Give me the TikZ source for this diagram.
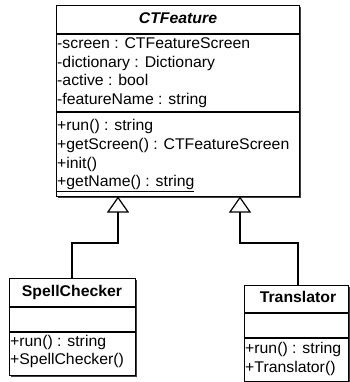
\documentclass[tikz,border=0pt]{standalone}
\usepackage{fontspec}
\setmainfont[FakeStretch=1.02]{Liberation Sans}
\usetikzlibrary{arrows.meta,shadows}
\begin{document}
\begin{tikzpicture}[x=1pt,y=-1pt,
  classbox/.style={draw, line width=1.2pt, fill=white, inner sep=0pt, anchor=north west,
    drop shadow={shadow xshift=1.3pt, shadow yshift=-1.3pt, fill=black!75, opacity=1}},
  member/.style={anchor=west, inner sep=0pt, font=\fontsize{15.5}{18}\selectfont,
    text height=11pt, text depth=3pt},
  cname/.style={inner sep=0pt, font=\fontsize{15.5}{18}\selectfont\bfseries,
    text height=11pt, text depth=3pt},
  sep/.style={line width=1.2pt},
  inherit/.style={line width=1.2pt, -{Triangle[open, width=22pt, length=16pt, line width=1.2pt]}}
]
\useasboundingbox (0,0) rectangle (349,382);

% CTFeature class
\node[classbox, minimum width=243pt, minimum height=191pt] (ct) at (56,5) {};
\draw[sep] (56,34) -- (299,34);
\draw[sep] (56,112) -- (299,112);
\node[cname, font=\fontsize{15.5}{18}\selectfont\bfseries\itshape] (ctname) at (178,20) {CTFeature};
\node[member] (a1) at (57,45) {-screen : CTFeatureScreen};
\node[member] (a2) at (57,63.5) {-dictionary : Dictionary};
\node[member] (a3) at (57,82) {-active : bool};
\node[member] (a4) at (57,100.5) {-featureName : string};
\node[member] (m1) at (57,127) {+run() : string};
\node[member] (m2) at (57,145.5) {+getScreen() : CTFeatureScreen};
\node[member] (m3) at (57,164) {+init()};
\node[member] (m4) at (57,182.5) {\underline{+getName() : string}};

% SpellChecker class
\node[classbox, minimum width=126pt, minimum height=97pt] (sc) at (9,278) {};
\draw[sep] (9,307) -- (135,307);
\draw[sep] (9,332) -- (135,332);
\node[cname] (scname) at (72,292) {SpellChecker};
\node[member] (s1) at (10,342) {+run() : string};
\node[member] (s2) at (10,360.5) {+SpellChecker()};

% Translator class
\node[classbox, minimum width=104pt, minimum height=96pt] (tr) at (244,285) {};
\draw[sep] (244,313) -- (348,313);
\draw[sep] (244,338) -- (348,338);
\node[cname] (trname) at (298,298) {Translator};
\node[member] (t1) at (245,349.5) {+run() : string};
\node[member] (t2) at (245,368) {+Translator()};

% generalization connectors
\coordinate (jL) at (118,243);
\coordinate (jR) at (240,243);
\coordinate (tipL) at (118,196.5);
\coordinate (tipR) at (240,196.5);
\draw[inherit] (sc.north -| 72,0) |- (jL) -- (tipL);
\draw[inherit] (tr.north -| 298,0) |- (jR) -- (tipR);
\end{tikzpicture}
\end{document}
